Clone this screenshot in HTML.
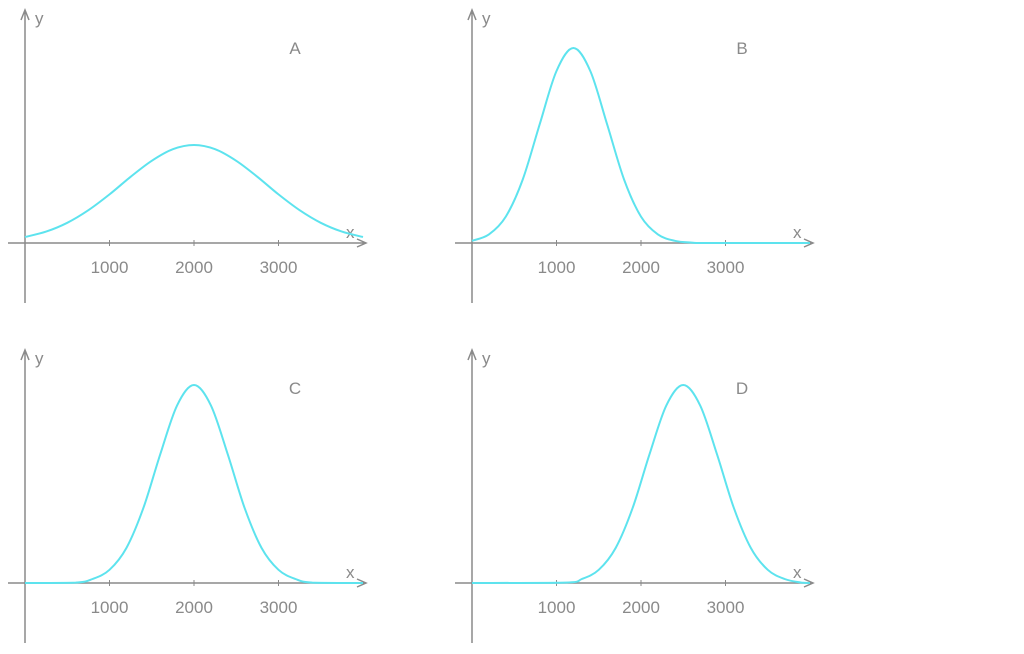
<!DOCTYPE html>
<html><head><meta charset="utf-8"><style>
body{margin:0;background:#fff;width:1024px;height:649px;overflow:hidden}
svg{font-family:"Liberation Sans",sans-serif}
</style></head><body>
<svg id="chart" width="1024" height="649" viewBox="0 0 1024 649"></svg>
<script>
const tickLabels = ["1000","2000","3000"];
const tickValues = [1000,2000,3000];
const panelLetters = ["A","B","C","D"];
const xsA = [0,250,500,750,1000,1250,1500,1750,2000,2250,2500,2750,3000,3250,3500,3750,4000];
const ysA = [0.03,0.057,0.101,0.164,0.243,0.331,0.411,0.469,0.49,0.469,0.411,0.331,0.243,0.164,0.101,0.057,0.03];
const xsB = [0,200,400,600,800,1000,1200,1400,1600,1800,2000,2200,2400,2600,2800,4000];
const ysB = [0.011,0.043,0.132,0.317,0.592,0.86,0.975,0.86,0.592,0.317,0.132,0.043,0.011,0.002,0,0];
const xsC = [0,600,800,1000,1200,1400,1600,1800,2000,2200,2400,2600,2800,3000,3200,3400,4000];
const ysC = [0,0.002,0.02,0.066,0.175,0.374,0.643,0.888,0.99,0.888,0.643,0.374,0.175,0.066,0.02,0.002,0];
const xsD = [0,1100,1300,1500,1700,1900,2100,2300,2500,2700,2900,3100,3300,3500,3700,3900,4000];
const ysD = [0,0.002,0.02,0.066,0.175,0.374,0.643,0.888,0.99,0.888,0.643,0.374,0.175,0.066,0.02,0.002,0];
const NS="http://www.w3.org/2000/svg";
const svg=document.getElementById('chart');
const panels=[{ox:25,oy:243,xs:xsA,ys:ysA},{ox:472,oy:243,xs:xsB,ys:ysB},{ox:25,oy:583,xs:xsC,ys:ysC},{ox:472,oy:583,xs:xsD,ys:ysD}];
function mk(tag,attrs){const e=document.createElementNS(NS,tag);for(const k in attrs)e.setAttribute(k,attrs[k]);return e;}
panels.forEach((p,i)=>{
  const g=mk('g',{});
  
  
  svg.appendChild(g);
  const sx=v=>p.ox+v*0.0845, sy=v=>p.oy-v*200;
  const xa=mk('path',{d:`M${p.ox-17},${p.oy}H${p.ox+340} M${p.ox+332},${p.oy-4}L${p.ox+341},${p.oy}L${p.ox+332},${p.oy+4}`,stroke:'#8a8a8a','stroke-width':1.5,fill:'none'});
  
  
  g.appendChild(xa);
  const ya=mk('path',{d:`M${p.ox},${p.oy+60}V${p.oy-232} M${p.ox-4},${p.oy-223}L${p.ox},${p.oy-233}L${p.ox+4},${p.oy-223}`,stroke:'#8a8a8a','stroke-width':1.5,fill:'none'});
  
  
  g.appendChild(ya);
  tickValues.forEach((tv,j)=>{
    const t=mk('line',{x1:sx(tv),x2:sx(tv),y1:p.oy-3,y2:p.oy+3,stroke:'#8a8a8a','stroke-width':1});
    
    
    g.appendChild(t);
    const l=mk('text',{x:sx(tv),y:p.oy+30,'text-anchor':'middle','font-size':17,fill:'#8a8a8a'});
    l.textContent=tickLabels[j];
    
    
    g.appendChild(l);
  });
  const yl=mk('text',{x:p.ox+10,y:p.oy-219,'font-size':17,fill:'#8a8a8a'});yl.textContent='y';
  
  
  g.appendChild(yl);
  const xl=mk('text',{x:p.ox+321,y:p.oy-5,'font-size':17,fill:'#8a8a8a'});xl.textContent='x';
  
  
  g.appendChild(xl);
  const pl=mk('text',{x:p.ox+270,y:p.oy-189,'text-anchor':'middle','font-size':17,fill:'#8a8a8a'});pl.textContent=panelLetters[i];
  
  
  g.appendChild(pl);
  const pts=p.xs.map((x,k)=>[sx(x),sy(p.ys[k])]);
  let d=`M${pts[0][0]},${pts[0][1]}`;
  for(let k=0;k<pts.length-1;k++){
    const p0=pts[k-1]||pts[k],p1=pts[k],p2=pts[k+1],p3=pts[k+2]||p2;
    const c1=[p1[0]+(p2[0]-p0[0])/6,Math.min(p.oy,p1[1]+(p2[1]-p0[1])/6)];
    const c2=[p2[0]-(p3[0]-p1[0])/6,Math.min(p.oy,p2[1]-(p3[1]-p1[1])/6)];
    d+=`C${c1[0]},${c1[1]} ${c2[0]},${c2[1]} ${p2[0]},${p2[1]}`;
  }
  const c=mk('path',{d:d,stroke:'#5de3ee','stroke-width':2,fill:'none'});
  
  
  g.appendChild(c);
});
</script>
</body></html>
